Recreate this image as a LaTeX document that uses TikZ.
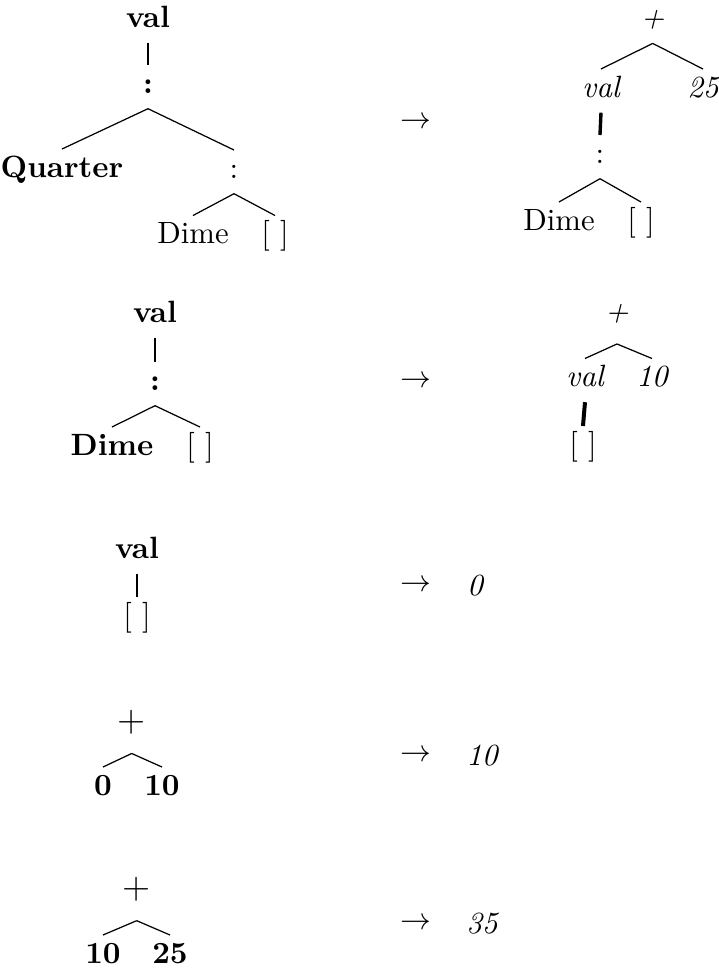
\documentclass[tikz,border=0pt]{standalone}
\usepackage{tikz}

\begin{document}
\begin{tikzpicture}[x=0.325pt, y=-0.325pt,
    leaf/.style={anchor=base, inner sep=2.9pt, text height=6pt, text depth=2pt},
    sumop/.style={leaf, text depth=4.2pt},
    res/.style={leaf, font=\itshape}]
    \useasboundingbox (0,0) rectangle (719,969);

    % Row 1: val (Quarter : Dime : []).
    \node[leaf, font=\bfseries] (t1val) at (148, 27) {val};
    \node[leaf, font=\bfseries] (t1cons) at (148, 93) {:};
    \node[leaf, font=\bfseries] (t1q) at (62, 177) {Quarter};
    \node[leaf] (t1cons2) at (234, 178) {:};
    \node[leaf] (t1dime) at (193, 243.5) {Dime};
    \node[leaf] (t1nil) at (275, 243.5) {[ ]};
    \draw[line width=0.9pt] (t1val.south) -- (t1cons.north);
    \draw (t1cons.south) -- (t1q.north);
    \draw (t1cons.south) -- (t1cons2.north);
    \draw (t1cons2.south) -- (t1dime.north);
    \draw (t1cons2.south) -- (t1nil.north);

    \node[leaf] (arr1) at (416, 128.7) {$\to$};

    % Row 1, rewritten: val (Dime : []) + 25.
    \node[leaf, font=\itshape] (r1plus) at (652.7, 27.7) {+};
    \node[leaf, font=\itshape] (r1val) at (601, 97) {val};
    \node[leaf, font=\itshape] (r1n) at (703, 97) {25};
    \node[leaf] (r1cons) at (600, 163) {:};
    \node[leaf] (r1dime) at (559, 230) {Dime};
    \node[leaf] (r1nil) at (641, 230) {[ ]};
    \draw (r1plus.south) -- (r1val.north);
    \draw (r1plus.south) -- (r1n.north);
    \draw[line width=1.1pt] (r1val.south) -- (r1cons.north);
    \draw (r1cons.south) -- (r1dime.north);
    \draw (r1cons.south) -- (r1nil.north);

    % Row 2: val (Dime : []).
    \node[leaf, font=\bfseries] (m1val) at (155, 322) {val};
    \node[leaf, font=\bfseries] (m1cons) at (155, 390) {:};
    \node[leaf, font=\bfseries] (m1dime) at (112, 455) {Dime};
    \node[leaf] (m1nil) at (200, 455) {[ ]};
    \draw[line width=0.65pt] (m1val.south) -- (m1cons.north);
    \draw (m1cons.south) -- (m1dime.north);
    \draw (m1cons.south) -- (m1nil.north);

    \node[leaf] (arr2) at (416, 387.7) {$\to$};

    % Row 2, rewritten: val [] + 10.
    \node[sumop, font=\itshape] (m2plus) at (617, 321.5) {+};
    \node[leaf, font=\itshape] (m2val) at (585, 386.5) {val};
    \node[leaf, font=\itshape] (m2n) at (652, 386.5) {10};
    \node[leaf] (m2nil) at (583, 454) {[ ]};
    \draw (m2plus.south) -- (m2val.north);
    \draw (m2plus.south) -- (m2n.north);
    \draw[line width=1.3pt] (m2val.south) -- (m2nil.north);

    % Row 3: val [] gives 0.
    \node[leaf, font=\bfseries] (b1val) at (137, 558) {val};
    \node[leaf] (b1nil) at (137, 625) {[ ]};
    \draw[line width=0.65pt] (b1val.south) -- (b1nil.north);
    \node[leaf] (arr3) at (416, 591.7) {$\to$};
    \node[res] (r3) at (475, 595) {0};

    % Row 4: 0 + 10.
    \node[sumop, font=\large] (b2plus) at (131.7, 731) {+};
    \node[leaf, font=\bfseries] (b2a) at (103, 795) {0};
    \node[leaf, font=\bfseries] (b2b) at (162, 795) {10};
    \draw (b2plus.south) -- (b2a.north);
    \draw (b2plus.south) -- (b2b.north);
    \node[leaf] (arr4) at (416, 761.7) {$\to$};
    \node[res] (r4) at (482, 765) {10};

    % Row 5: 10 + 25.
    \node[sumop, font=\large] (b3plus) at (136.7, 898.2) {+};
    \node[leaf, font=\bfseries] (b3a) at (103, 963) {10};
    \node[leaf, font=\bfseries] (b3b) at (170, 963) {25};
    \draw (b3plus.south) -- (b3a.north);
    \draw (b3plus.south) -- (b3b.north);
    \node[leaf] (arr5) at (416, 929.7) {$\to$};
    \node[res] (r5) at (482, 933) {35};
\end{tikzpicture}
\end{document}
